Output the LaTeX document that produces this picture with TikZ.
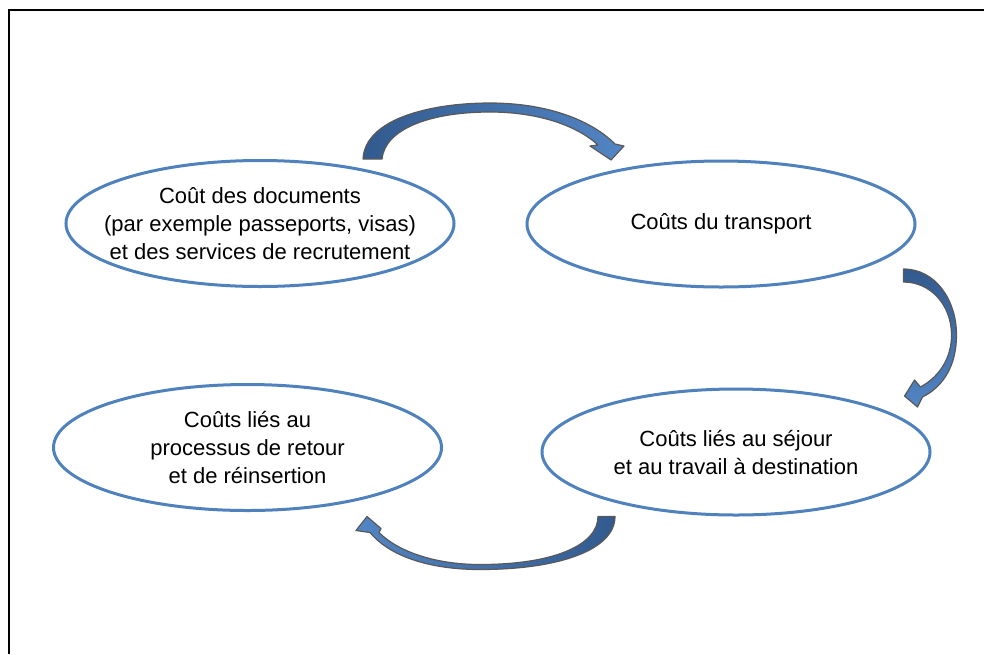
\documentclass[tikz,border=0pt]{standalone}
\usepackage{fontspec}
\setmainfont{Liberation Sans}
\usetikzlibrary{shapes.geometric, calc}

\definecolor{ovalblue}{RGB}{79,129,189}
\definecolor{arrowdark}{RGB}{50,90,142}
\definecolor{arrowlight}{RGB}{82,133,196}
\definecolor{arrowedge}{RGB}{89,89,89}

\begin{document}
\begin{tikzpicture}[
    x=0.5pt, y=-0.5pt,
    cost/.style={ellipse, draw=ovalblue, line width=1.5pt, minimum width=194pt, minimum height=63pt, inner sep=-10pt, align=center, font=\fontsize{11}{14}\selectfont},
    curvearrow/.style={draw=arrowedge, line width=0.6pt, line join=round}
]
\useasboundingbox (0,0) rectangle (984,654);
\draw[line width=0.75pt] (9,654) -- (9,10) -- (984,10);

\node[cost] (docs) at (260,223.5) {Coût des documents\\(par exemple passeports, visas)\\et des services de recrutement};
\node[cost] (transport) at (721,224) {Coûts du transport};
\node[cost] (sejour) at (736,452) {Coûts liés au séjour\\et au travail à destination};
\node[cost] (retour) at (247.5,447.5) {Coûts liés au\\processus de retour\\et de réinsertion};

% documents -> transport
\begin{scope}[shift={(docs.north)}]
\shade[curvearrow, left color=arrowdark, right color=arrowlight]
    (103,0) .. controls (105,-40) and (170,-56) .. (230,-56)
    .. controls (285,-56) and (330,-40) .. (355,-15)
    -- (364,-13) -- (351,1) -- (330,-13) -- (338,-14)
    .. controls (315,-35) and (275,-47) .. (230,-47)
    .. controls (170,-47) and (125,-30) .. (122,0) -- cycle;
\end{scope}

% transport -> sejour
\begin{scope}[shift={(transport.east)}]
\shade[curvearrow, top color=arrowdark, bottom color=arrowlight]
    (-13,45) .. controls (19,45) and (40,76) .. (40,111)
    .. controls (40,140) and (28,162) .. (6,173)
    -- (1,183) -- (-12,172) -- (-2,156) -- (4,163)
    .. controls (24,152) and (35,133) .. (35,111)
    .. controls (35,81) and (14,58) .. (-13,58) -- cycle;
\end{scope}

% sejour -> retour
\begin{scope}[shift={(sejour.south)}]
\shade[curvearrow, right color=arrowdark, left color=arrowlight]
    (-121,0) .. controls (-121,33) and (-176,53) .. (-256,53)
    .. controls (-306,53) and (-346,40) .. (-366,16)
    -- (-380,14) -- (-369,0) -- (-355,12) -- (-357,16)
    .. controls (-338,35) and (-301,48) .. (-256,48)
    .. controls (-181,48) and (-138,28) .. (-138,0) -- cycle;
\end{scope}
\end{tikzpicture}
\end{document}
